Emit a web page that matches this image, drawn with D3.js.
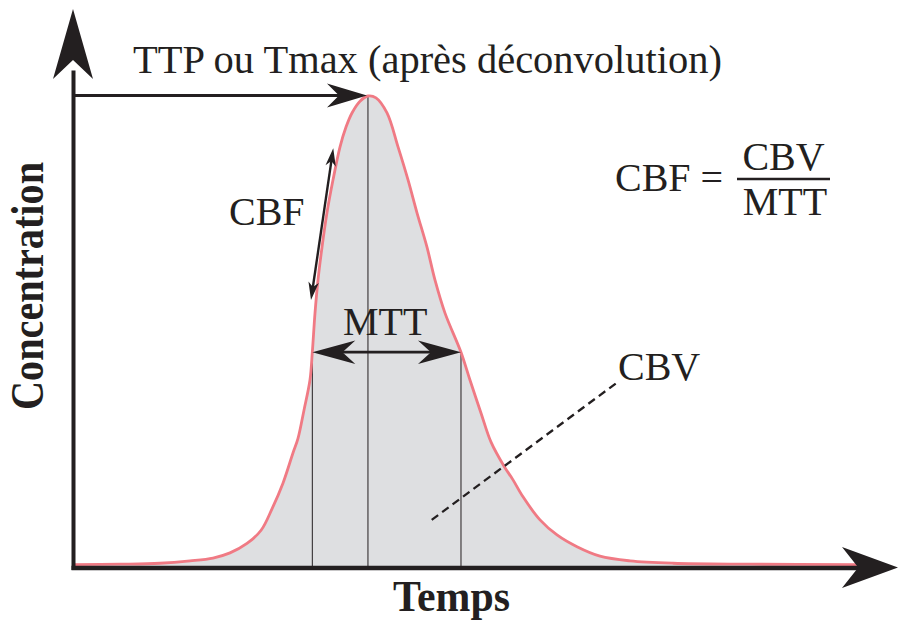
<!DOCTYPE html>
<html><head><meta charset="utf-8">
<script src="https://cdn.jsdelivr.net/npm/d3@7/dist/d3.min.js"></script>
<style>html,body{margin:0;padding:0;background:#fff;overflow:hidden;} svg{display:block;}</style>
</head><body>
<script>
// ---- data (time in arbitrary units 0-100, concentration in % of peak) ----
const time = [0, 6.0, 11.05, 14.87, 17.79, 19.95, 22.11, 23.9, 25.3, 26.68, 27.95, 28.59, 29.35, 30.11, 30.41, 30.75, 31.13, 31.64, 32.27, 33.04, 33.93, 34.69, 35.45, 36.47, 37.48, 38.50, 39.90, 41.30, 42.57, 43.71, 44.98, 46.00, 47.27, 49.30, 50.44, 51.84, 53.12, 54.77, 55.91, 57.18, 59.34, 61.50, 64.04, 66.96, 70.78, 76.24, 86.02, 100];
const concentration = [0.5, 0.6, 0.8, 1.3, 1.9, 3.0, 5.0, 7.8, 12.4, 17.8, 24.2, 27.3, 33.3, 39.7, 45.6, 53.9, 60.9, 67.9, 75.2, 82.2, 89.2, 93.4, 96.4, 98.9, 100, 99.6, 96.4, 89.2, 82.2, 75.2, 67.9, 60.9, 53.9, 45.6, 39.7, 32.7, 26.5, 21.4, 18.5, 14.9, 10.0, 6.8, 4.3, 2.3, 1.3, 0.8, 0.6, 0.5];
const mttBounds = [30.41, 49.30];
const mttLevel = 45.6;
const cbfArrowTime = [33.07, 30.24];
const cbfArrowConc = [88.9, 56.7];
const cbvLeaderTime = [45.58, 69.08];
const cbvLeaderConc = [10.0, 39.1];
const axisTitles = ["Temps", "Concentration"];
const labelTexts = ["TTP ou Tmax (après déconvolution)", "CBF", "MTT", "CBV"];
const formulaTexts = ["CBF =", "CBV", "MTT"];

// ---- setup ----
const W = 899, H = 621;
const ink = "#231f20";
const serif = "'Liberation Serif','Times New Roman',serif";
const svg = d3.select("body").append("svg").attr("width", W).attr("height", H);

const x = d3.scaleLinear().domain([0, 100]).range([73, 860]);
const y = d3.scaleLinear().domain([0, 100]).range([567, 96]);
const pts = time.map((t, i) => [t, concentration[i]]);
const peakIdx = d3.maxIndex(concentration);
const peakT = time[peakIdx], peakC = concentration[peakIdx];
const curve = d3.curveCatmullRom.alpha(0.5);

// arrowhead helper (barbed)
function head(tip, dir, len, hw, notch) {
  const [tx, ty] = tip; const n = Math.hypot(dir[0], dir[1]);
  const ux = dir[0] / n, uy = dir[1] / n, px = -uy, py = ux;
  const bx = tx - ux * len, by = ty - uy * len;
  const nx = tx - ux * len * notch, ny = ty - uy * len * notch;
  return `M${tx},${ty}L${bx + px * hw},${by + py * hw}L${nx},${ny}L${bx - px * hw},${by - py * hw}Z`;
}

// area
svg.append("path").datum(pts)
  .attr("d", d3.area().x(d => x(d[0])).y0(y(0)).y1(d => y(d[1])).curve(curve))
  .attr("fill", "#dedfe1");

// vertical guide lines
const vLines = [mttBounds[0], peakT, mttBounds[1]];
svg.selectAll("line.v").data(vLines).join("line")
  .attr("x1", d => x(d)).attr("x2", d => x(d))
  .attr("y1", y(0)).attr("y2", (d, i) => i === 1 ? y(peakC) : y(mttLevel))
  .attr("stroke", ink).attr("stroke-width", 1);

// curve
svg.append("path").datum(pts)
  .attr("d", d3.line().x(d => x(d[0])).y(d => y(d[1])).curve(curve))
  .attr("fill", "none").attr("stroke", "#f07a84").attr("stroke-width", 2.8);

// axes
const xa = x.copy().domain([0, 1]).range([71, 860]);
const ya = y.copy().domain([0, 1]).range([569.5, 70]);
const gx = svg.append("g").attr("transform", `translate(0,${y(0) + 0.5})`)
  .call(d3.axisBottom(xa).ticks(0).tickSizeOuter(0));
gx.select(".domain").attr("stroke", ink).attr("stroke-width", 4.5);
const gy = svg.append("g").attr("transform", `translate(${x(0)},0)`)
  .call(d3.axisLeft(ya).ticks(0).tickSizeOuter(0));
gy.select(".domain").attr("stroke", ink).attr("stroke-width", 4);
svg.append("path").attr("d", head([898, y(0) + 0.5], [1, 0], 56, 20.5, 0.71)).attr("fill", ink);
svg.append("path").attr("d", head([x(0), 9], [0, -1], 70, 20, 0.73)).attr("fill", ink);

// TTP arrow
svg.append("line").attr("x1", x(0)).attr("x2", x(peakT) - 20)
  .attr("y1", y(peakC) - 0.5).attr("y2", y(peakC) - 0.5).attr("stroke", ink).attr("stroke-width", 2.8);
svg.append("path").attr("d", head([x(peakT) - 1, y(peakC) - 0.5], [1, 0], 40, 12, 0.7)).attr("fill", ink);

// MTT double arrow
const my = y(mttLevel);
svg.append("line").attr("x1", x(mttBounds[0]) + 10).attr("x2", x(mttBounds[1]) - 10)
  .attr("y1", my).attr("y2", my).attr("stroke", ink).attr("stroke-width", 2.8);
svg.append("path").attr("d", head([x(mttBounds[0]), my], [-1, 0], 43, 11.7, 0.7)).attr("fill", ink);
svg.append("path").attr("d", head([x(mttBounds[1]), my], [1, 0], 43, 11.7, 0.7)).attr("fill", ink);

// CBF double arrow
const c1 = [x(cbfArrowTime[0]), y(cbfArrowConc[0])], c2 = [x(cbfArrowTime[1]), y(cbfArrowConc[1])];
const cd = [c1[0] - c2[0], c1[1] - c2[1]], cl = Math.hypot(cd[0], cd[1]);
const cu = [cd[0] / cl, cd[1] / cl];
svg.append("line").attr("x1", c2[0] + cu[0] * 8).attr("y1", c2[1] + cu[1] * 8)
  .attr("x2", c1[0] - cu[0] * 8).attr("y2", c1[1] - cu[1] * 8)
  .attr("stroke", ink).attr("stroke-width", 2.4);
svg.append("path").attr("d", head(c1, cd, 18, 5.2, 0.72)).attr("fill", ink);
svg.append("path").attr("d", head(c2, [-cd[0], -cd[1]], 18, 5.2, 0.72)).attr("fill", ink);

// CBV dashed leader
svg.append("line")
  .attr("x1", x(cbvLeaderTime[0])).attr("y1", y(cbvLeaderConc[0]))
  .attr("x2", x(cbvLeaderTime[1])).attr("y2", y(cbvLeaderConc[1]))
  .attr("stroke", ink).attr("stroke-width", 2.3).attr("stroke-dasharray", "8,5");

// labels
const txt = (s, xx, yy, opts = {}) => {
  const t = svg.append("text").text(s).attr("x", xx).attr("y", yy)
    .attr("font-family", serif).attr("font-size", opts.size || 40)
    .attr("fill", ink).attr("text-anchor", opts.anchor || "start");
  if (opts.bold) t.attr("font-weight", "bold");
  if (opts.len) t.attr("textLength", opts.len).attr("lengthAdjust", "spacingAndGlyphs");
  if (opts.rot) t.attr("transform", `rotate(${opts.rot},${xx},${yy})`);
  return t;
};
txt(labelTexts[0], 133, 73, {len: 589});
txt(labelTexts[1], 229, 225);
txt(labelTexts[2], 343, 335);
txt(labelTexts[3], 618, 380);

// formula
txt(formulaTexts[0], 615, 191);
svg.append("line").attr("x1", 737).attr("x2", 830).attr("y1", 179).attr("y2", 179)
  .attr("stroke", ink).attr("stroke-width", 2.5);
txt(formulaTexts[1], 783.5, 170, {anchor: "middle"});
txt(formulaTexts[2], 785, 215, {anchor: "middle"});

// axis titles
txt(axisTitles[0], 451.5, 611, {anchor: "middle", bold: true, size: 44, len: 117});
txt(axisTitles[1], 43, 286, {anchor: "middle", bold: true, size: 46, len: 248, rot: -90});
</script>
</body></html>
